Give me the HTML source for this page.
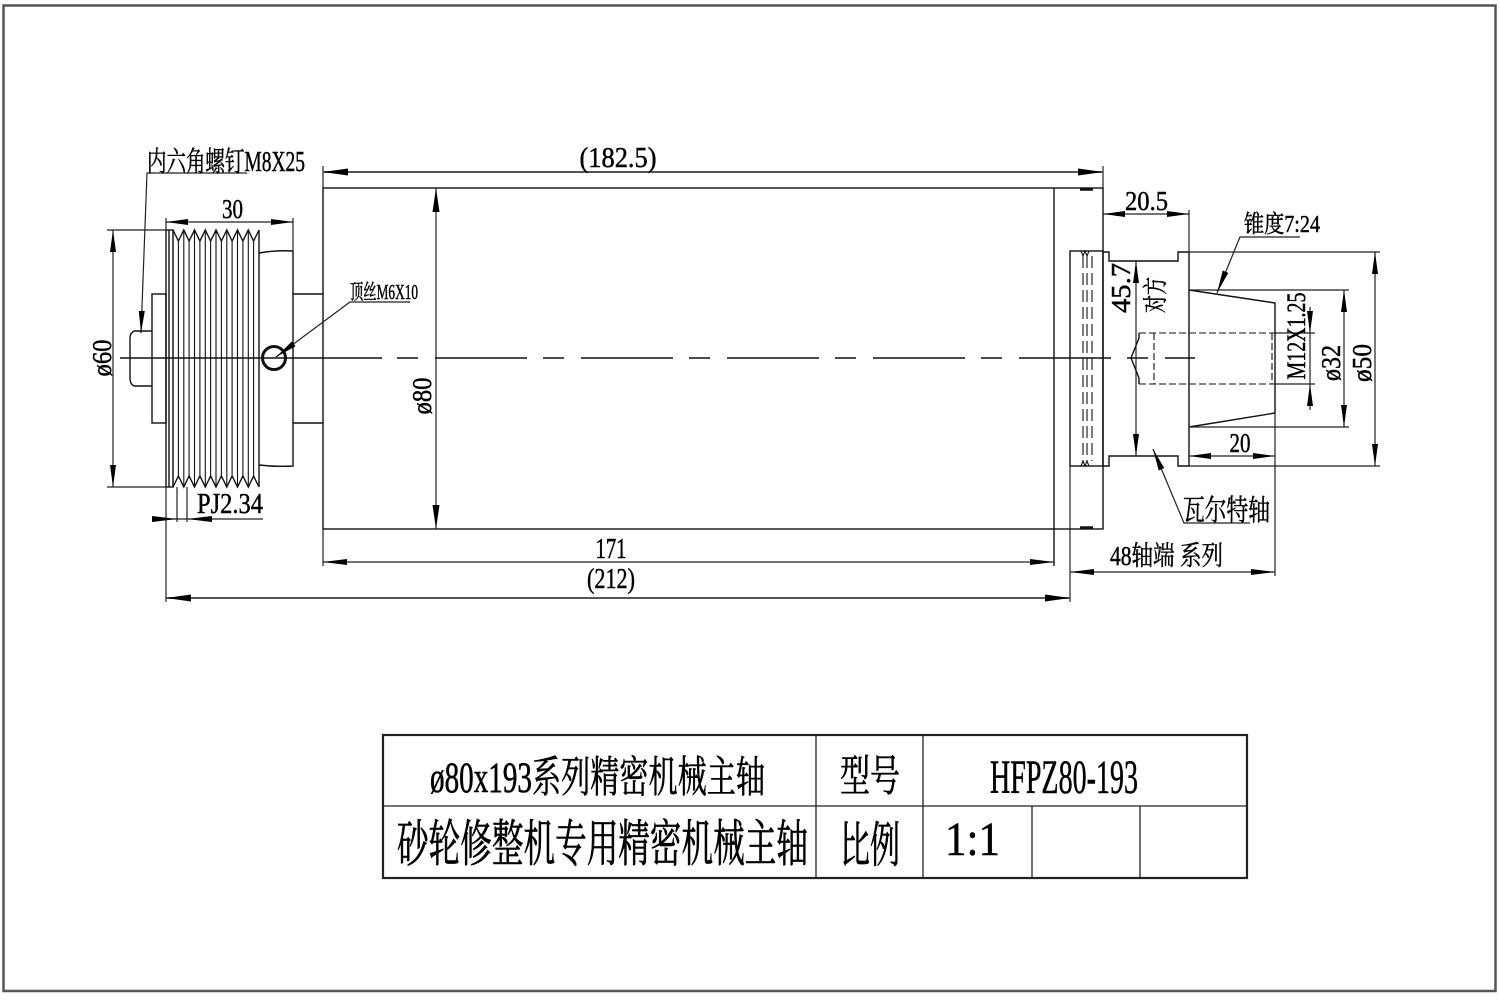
<!DOCTYPE html>
<html>
<head>
<meta charset="utf-8">
<style>
html,body{margin:0;padding:0;background:#fff;}
svg{display:block;}
text{font-family:"Liberation Serif","Noto Serif CJK SC",serif;fill:#000;stroke:#000;stroke-width:0.45;}
</style>
</head>
<body>
<svg width="1500" height="1000" viewBox="0 0 1500 1000" xmlns="http://www.w3.org/2000/svg">
<rect x="0" y="0" width="1500" height="1000" fill="#fff"/>
<!-- border -->
<rect x="3.5" y="5.5" width="1492" height="985.5" fill="none" stroke="#555" stroke-width="2.5"/>

<g stroke="#111" stroke-width="1.4" fill="none">
  <!-- centerline -->
  <line x1="120" y1="358" x2="382" y2="358"/>
  <line x1="397" y1="358" x2="1195" y2="358" stroke-dasharray="21 17 92 16"/>

  <!-- screw head -->
  <path d="M152,331 L134,331 Q130,333 130,338 L130,378 Q130,384 134,386 L152,386"/>
  <!-- left hub -->
  <rect x="152" y="294" width="14" height="129"/>
  <!-- pulley flange -->
  <rect x="166" y="230" width="7" height="257"/>
  <line x1="169" y1="230" x2="169" y2="487"/>
  <!-- pulley grooves top/bottom zigzag -->
  <polyline points="173,230 178.4,241 183.8,230 189.1,241 194.5,230 199.9,241 205.3,230 210.6,241 216,230 221.4,241 226.8,230 232.1,241 237.5,230 242.9,241 248.3,230 253.6,241 259,230"/>
  <polyline points="173,487 178.4,476 183.8,487 189.1,476 194.5,487 199.9,476 205.3,487 210.6,476 216,487 221.4,476 226.8,487 232.1,476 237.5,487 242.9,476 248.3,487 253.6,476 259,487"/>
  <g stroke-width="1.1">
    <line x1="173" y1="230" x2="173" y2="487"/>
    <line x1="178.4" y1="241" x2="178.4" y2="476"/>
    <line x1="183.8" y1="230" x2="183.8" y2="487"/>
    <line x1="189.1" y1="241" x2="189.1" y2="476"/>
    <line x1="194.5" y1="230" x2="194.5" y2="487"/>
    <line x1="199.9" y1="241" x2="199.9" y2="476"/>
    <line x1="205.3" y1="230" x2="205.3" y2="487"/>
    <line x1="210.6" y1="241" x2="210.6" y2="476"/>
    <line x1="216" y1="230" x2="216" y2="487"/>
    <line x1="221.4" y1="241" x2="221.4" y2="476"/>
    <line x1="226.8" y1="230" x2="226.8" y2="487"/>
    <line x1="232.1" y1="241" x2="232.1" y2="476"/>
    <line x1="237.5" y1="230" x2="237.5" y2="487"/>
    <line x1="242.9" y1="241" x2="242.9" y2="476"/>
    <line x1="248.3" y1="230" x2="248.3" y2="487"/>
    <line x1="253.6" y1="241" x2="253.6" y2="476"/>
  </g>
  <line x1="259" y1="230" x2="259" y2="487"/>
  <!-- hub right of pulley -->
  <path d="M259,253 Q276,250 293,251 L293,466 Q276,467 259,465"/>
  <!-- shaft -->
  <path d="M293,294 L323,294 M293,423 L323,423"/>
  <!-- set screw hole -->
  <circle cx="274" cy="358" r="11.5" stroke-width="3"/>

  <!-- body -->
  <rect x="323" y="188" width="780" height="341"/>
  <line x1="1054" y1="188" x2="1054" y2="566"/>
  <line x1="1080" y1="189.5" x2="1093" y2="189.5" stroke-width="2.5"/>
  <line x1="1080" y1="527.5" x2="1093" y2="527.5" stroke-width="2.5"/>

  <!-- collar -->
  <rect x="1070" y="251" width="33" height="215"/>
  <g stroke-dasharray="12 5" stroke-width="1.1">
    <line x1="1083" y1="256" x2="1083" y2="461"/>
    <line x1="1087" y1="256" x2="1087" y2="461"/>
    <line x1="1092" y1="256" x2="1092" y2="461"/>
  </g>
  <polyline points="1081,251 1083,256 1085,251 1087,256 1089,251" stroke-width="1.1"/>
  <polyline points="1081,466 1083,461 1085,466 1087,461 1089,466" stroke-width="1.1"/>

  <!-- right flange -->
  <path d="M1103,252 L1109,252 L1109,261 L1178,261 L1178,252 L1189,252 L1189,466 L1178,466 L1178,456 L1109,456 L1109,466 L1103,466"/>
  <!-- taper -->
  <path d="M1189,290 L1275,303 L1275,413 L1189,427"/>
  <!-- hole -->
  <path d="M1139,333 L1139,338 L1131,358 L1139,378 L1139,384"/>
  <g stroke-dasharray="7 3" stroke-width="1.1">
    <line x1="1139" y1="333" x2="1275" y2="333"/>
    <line x1="1139" y1="384" x2="1275" y2="384"/>
    <line x1="1154" y1="333" x2="1154" y2="384"/>
    <line x1="1272" y1="333" x2="1272" y2="384"/>
  </g>
</g>

<!-- dimension lines -->
<g stroke="#222" stroke-width="1.2" fill="none">
  <!-- ø60 -->
  <line x1="107" y1="230" x2="166" y2="230"/>
  <line x1="107" y1="487" x2="166" y2="487"/>
  <line x1="113" y1="230" x2="113" y2="487"/>
  <!-- 30 -->
  <line x1="166" y1="218" x2="166" y2="230"/>
  <line x1="293" y1="218" x2="293" y2="251"/>
  <line x1="166" y1="222" x2="293" y2="222"/>
  <!-- 182.5 -->
  <line x1="323" y1="166" x2="323" y2="188"/>
  <line x1="1103" y1="166" x2="1103" y2="188"/>
  <line x1="323" y1="172" x2="1103" y2="172" stroke="#555" stroke-width="2"/>
  <!-- ø80 -->
  <line x1="436" y1="188" x2="436" y2="529"/>
  <!-- PJ2.34 -->
  <line x1="177" y1="487" x2="177" y2="522"/>
  <line x1="187" y1="487" x2="187" y2="522"/>
  <line x1="152" y1="519" x2="263" y2="519"/>
  <!-- 171 / 212 -->
  <line x1="323" y1="529" x2="323" y2="566"/>
  <line x1="323" y1="562" x2="1054" y2="562"/>
  <line x1="166" y1="487" x2="166" y2="602"/>
  <line x1="1070" y1="466" x2="1070" y2="602"/>
  <line x1="166" y1="598" x2="1070" y2="598" stroke="#555" stroke-width="2"/>
  <!-- 48 -->
  <line x1="1275" y1="413" x2="1275" y2="576"/>
  <line x1="1070" y1="572" x2="1275" y2="572"/>
  <!-- 20.5 -->
  <line x1="1189" y1="210" x2="1189" y2="252"/>
  <line x1="1103" y1="214" x2="1189" y2="214"/>
  <!-- 45.7 -->
  <line x1="1136" y1="261" x2="1136" y2="456"/>
  <!-- ø50 -->
  <line x1="1189" y1="252" x2="1380" y2="252"/>
  <line x1="1189" y1="466" x2="1380" y2="466"/>
  <line x1="1375" y1="252" x2="1375" y2="466"/>
  <!-- ø32 -->
  <line x1="1189" y1="290" x2="1349" y2="290"/>
  <line x1="1189" y1="427" x2="1349" y2="427"/>
  <line x1="1344" y1="290" x2="1344" y2="427"/>
  <!-- M12 -->
  <line x1="1275" y1="333" x2="1315" y2="333"/>
  <line x1="1275" y1="384" x2="1315" y2="384"/>
  <line x1="1310" y1="307" x2="1310" y2="410"/>
  <!-- 20 -->
  <line x1="1189" y1="456" x2="1275" y2="456"/>
  <!-- leaders -->
  <polyline points="247,173 147,173 141,333"/>
  <polyline points="410,302 350,302 276,357"/>
  <polyline points="1300,237 1240,237 1217,293"/>
  <polyline points="1250,523 1184,523 1153,449"/>
</g>

<!-- arrowheads -->
<g fill="#000" stroke="none">
  <polygon points="113,230 110,252 116,252"/>
  <polygon points="113,487 110,465 116,465"/>
  <polygon points="166,222 188,219 188,225"/>
  <polygon points="293,222 271,219 271,225"/>
  <polygon points="323,172 348,168.5 348,175.5"/>
  <polygon points="1103,172 1078,168.5 1078,175.5"/>
  <polygon points="436,188 432.5,212 439.5,212"/>
  <polygon points="436,529 432.5,505 439.5,505"/>
  <polygon points="177,519 152,516 152,522"/>
  <polygon points="187,519 212,516 212,522"/>
  <polygon points="323,562 347,559 347,565"/>
  <polygon points="1054,562 1030,559 1030,565"/>
  <polygon points="166,598 191,594.5 191,601.5"/>
  <polygon points="1070,598 1045,594.5 1045,601.5"/>
  <polygon points="1070,572 1094,569 1094,575"/>
  <polygon points="1275,572 1251,569 1251,575"/>
  <polygon points="1103,214 1125,211 1125,217"/>
  <polygon points="1189,214 1167,211 1167,217"/>
  <polygon points="1136,261 1133,283 1139,283"/>
  <polygon points="1136,456 1133,434 1139,434"/>
  <polygon points="1375,252 1372,274 1378,274"/>
  <polygon points="1375,466 1372,444 1378,444"/>
  <polygon points="1344,290 1341,312 1347,312"/>
  <polygon points="1344,427 1341,405 1347,405"/>
  <polygon points="1310,333 1307,311 1313,311"/>
  <polygon points="1310,384 1307,406 1313,406"/>
  <polygon points="1189,456 1211,453 1211,459"/>
  <polygon points="1275,456 1253,453 1253,459"/>
  <polygon points="141,333 144.8,311 138.8,311"/>
  <polygon points="276,357 295.5,346.3 291.9,341.5"/>
  <polygon points="1217,293 1228.3,272.9 1222.7,270.5"/>
  <polygon points="1153,449 1164.3,468.1 1158.7,470.5"/>
</g>

<!-- drawing labels -->
<text x="147" y="171" font-size="28" textLength="158" lengthAdjust="spacingAndGlyphs">内六角螺钉M8X25</text>
<text x="618" y="167" font-size="28" text-anchor="middle" textLength="77" lengthAdjust="spacingAndGlyphs">(182.5)</text>
<text x="232.5" y="218" font-size="27" text-anchor="middle" textLength="21" lengthAdjust="spacingAndGlyphs">30</text>
<text transform="translate(111,358) rotate(-90)" font-size="27" text-anchor="middle" textLength="37" lengthAdjust="spacingAndGlyphs">ø60</text>
<text x="197" y="513" font-size="29" textLength="66" lengthAdjust="spacingAndGlyphs">PJ2.34</text>
<text x="350" y="299" font-size="21" textLength="68" lengthAdjust="spacingAndGlyphs">顶丝M6X10</text>
<text transform="translate(431,396) rotate(-90)" font-size="27" text-anchor="middle" textLength="37" lengthAdjust="spacingAndGlyphs">ø80</text>
<text x="611" y="558" font-size="28" text-anchor="middle" textLength="31" lengthAdjust="spacingAndGlyphs">171</text>
<text x="611" y="588" font-size="28" text-anchor="middle" textLength="48" lengthAdjust="spacingAndGlyphs">(212)</text>
<text x="1125" y="210" font-size="27" textLength="43" lengthAdjust="spacingAndGlyphs">20.5</text>
<text x="1244" y="232" font-size="24" textLength="76" lengthAdjust="spacingAndGlyphs">锥度7:24</text>
<text transform="translate(1130,288) rotate(-90)" font-size="27" text-anchor="middle" textLength="50" lengthAdjust="spacingAndGlyphs">45.7</text>
<text transform="translate(1164,295) rotate(-90)" font-size="25" text-anchor="middle" textLength="36" lengthAdjust="spacingAndGlyphs">对方</text>
<text transform="translate(1305,336) rotate(-90)" font-size="26" text-anchor="middle" textLength="87" lengthAdjust="spacingAndGlyphs">M12X1.25</text>
<text transform="translate(1340,363) rotate(-90)" font-size="27" text-anchor="middle" textLength="36" lengthAdjust="spacingAndGlyphs">ø32</text>
<text transform="translate(1371,363) rotate(-90)" font-size="27" text-anchor="middle" textLength="38" lengthAdjust="spacingAndGlyphs">ø50</text>
<text x="1240" y="452" font-size="27" text-anchor="middle" textLength="21" lengthAdjust="spacingAndGlyphs">20</text>
<text x="1183" y="520" font-size="29" textLength="87" lengthAdjust="spacingAndGlyphs">瓦尔特轴</text>
<text x="1110" y="565" font-size="27" textLength="113" lengthAdjust="spacingAndGlyphs">48轴端 系列</text>

<!-- title block -->
<g stroke="#222" fill="none">
  <rect x="383" y="735" width="864" height="143" stroke-width="2.2"/>
  <line x1="383" y1="806" x2="1247" y2="806" stroke-width="1.3"/>
  <line x1="816" y1="735" x2="816" y2="878" stroke-width="1.3"/>
  <line x1="923" y1="735" x2="923" y2="878" stroke-width="1.3"/>
  <line x1="1032" y1="806" x2="1032" y2="878" stroke-width="1.3"/>
  <line x1="1140" y1="806" x2="1140" y2="878" stroke-width="1.3"/>
</g>
<text x="430" y="792" font-size="43" textLength="335" lengthAdjust="spacingAndGlyphs" style="stroke-width:0.6">ø80x193系列精密机械主轴</text>
<text x="397" y="861" font-size="50" textLength="411" lengthAdjust="spacingAndGlyphs" style="stroke-width:0.7">砂轮修整机专用精密机械主轴</text>
<text x="840" y="791" font-size="43" textLength="60" lengthAdjust="spacingAndGlyphs" style="stroke-width:0.6">型号</text>
<text x="840" y="862" font-size="49" textLength="60" lengthAdjust="spacingAndGlyphs" style="stroke-width:0.7">比例</text>
<text x="990" y="793" font-size="48" textLength="148" lengthAdjust="spacingAndGlyphs" style="stroke-width:0.5">HFPZ80-193</text>
<text x="945" y="855" font-size="48" textLength="55" lengthAdjust="spacingAndGlyphs" style="stroke-width:0.5">1:1</text>
</svg>
</body>
</html>
